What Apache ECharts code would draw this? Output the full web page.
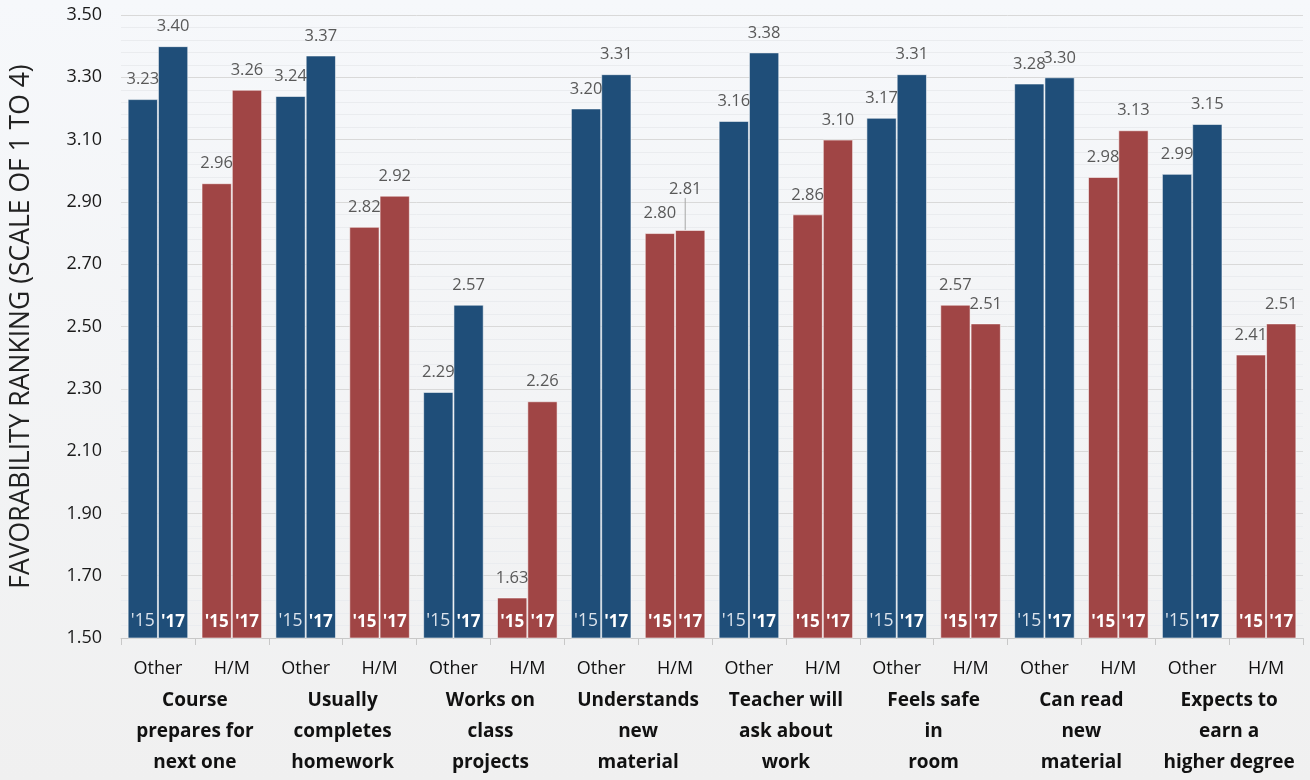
<!DOCTYPE html>
<html>
<head>
<meta charset="utf-8">
<script src="https://cdn.jsdelivr.net/npm/echarts@6/dist/echarts.min.js"></script>
<style>
  html, body { margin: 0; padding: 0; }
  #chart { width: 1310px; height: 780px; }
</style>
</head>
<body>
<div id="chart"></div>
<script>
// Survey items, each split into Other / H/M student groups
const items = [
  'Course\nprepares for\nnext one',
  'Usually\ncompletes\nhomework',
  'Works on\nclass\nprojects',
  'Understands\nnew\nmaterial',
  'Teacher will\nask about\nwork',
  'Feels safe\nin\nroom',
  'Can read\nnew\nmaterial',
  'Expects to\nearn a\nhigher degree'
];
const groups = ['Other', 'H/M'];
const yearTags = ["'15", "'17"];

// Favorability ranking per bar (item x group), ordered Other, H/M, Other, H/M, ...
const values2015 = [3.23, 2.96, 3.24, 2.82, 2.29, 1.63, 3.20, 2.80, 3.16, 2.86, 3.17, 2.57, 3.28, 2.98, 2.99, 2.41];
const values2017 = [3.40, 3.26, 3.37, 2.92, 2.57, 2.26, 3.31, 2.81, 3.38, 3.10, 3.31, 2.51, 3.30, 3.13, 3.15, 2.51];

const yTicks = { min: 1.5, max: 3.5, interval: 0.2 };

const BLUE = '#1f4e79';
const RED = '#a04545';
const FONT = 'Open Sans';

const subCategories = [];
items.forEach(() => groups.forEach(g => subCategories.push(g)));

const barColor = p => (p.dataIndex % 2 === 0 ? BLUE : RED);

function yearBar(name, values, stack) {
  return {
    name: name,
    type: 'bar',
    stack: stack,
    data: values,
    barGap: '0%',
    barCategoryGap: '18%',
    itemStyle: { color: barColor, borderColor: 'rgba(255,255,255,0.55)', borderWidth: 1 },
    label: {
      show: true,
      position: 'insideBottom',
      distance: 8,
      formatter: p => (p.dataIndex % 2 === 0 && name === "'15" ? '{lite|' + name + '}' : '{bold|' + name + '}'),
      rich: {
        lite: { fontFamily: FONT, fontSize: 17.5, color: '#dce3ec', fontWeight: 'normal' },
        bold: { fontFamily: FONT, fontSize: 17, color: '#ffffff', fontWeight: 'bold' }
      }
    },
    emphasis: { disabled: true },
    z: 2
  };
}

// zero-height caps stacked on each bar carry the value labels;
// a label listed in `lifted` is raised and tied back to its bar with a guide line
function valueCap(values, stack, lifted) {
  return {
    type: 'bar',
    stack: stack,
    data: values.map((v, i) => (lifted && lifted[i]
      ? { value: 0, labelLine: { show: true, lineStyle: { color: '#a6a6a6', width: 1 } } }
      : 0)),
    itemStyle: { color: 'rgba(0,0,0,0)', borderWidth: 0 },
    label: {
      show: true,
      position: 'top',
      distance: 11,
      fontFamily: FONT,
      fontSize: 16.5,
      color: '#595959',
      formatter: p => values[p.dataIndex].toFixed(2)
    },
    labelLine: { show: false },
    labelLayout: p => (lifted && lifted[p.dataIndex] ? lifted[p.dataIndex] : {}),
    emphasis: { disabled: true },
    z: 3
  };
}

const chart = echarts.init(document.getElementById('chart'), null, { renderer: 'canvas' });

chart.setOption({
  animation: false,
  backgroundColor: {
    type: 'linear', x: 0, y: 0, x2: 0, y2: 1,
    colorStops: [
      { offset: 0, color: '#f6f8fb' },
      { offset: 1, color: '#f0f0f0' }
    ]
  },
  grid: { left: 117, right: 7, top: 15, bottom: 142, containLabel: false },
  xAxis: [
    {
      type: 'category',
      data: subCategories,
      axisLine: { show: true, lineStyle: { color: '#c8c8c8' } },
      axisTick: { show: true, length: 7, alignWithLabel: false, interval: 0, lineStyle: { color: '#c8c8c8' } },
      axisLabel: { interval: 0, margin: 19, fontFamily: FONT, fontSize: 18, color: '#111', lineHeight: 24 }
    },
    {
      type: 'category',
      data: items,
      position: 'bottom',
      axisLine: { show: false },
      axisTick: { show: false },
      axisLabel: { interval: 0, margin: 47, fontFamily: FONT, fontSize: 19, fontWeight: 'bold', color: '#111', lineHeight: 31 }
    }
  ],
  yAxis: {
    type: 'value',
    min: yTicks.min,
    max: yTicks.max,
    interval: yTicks.interval,
    name: 'FAVORABILITY RANKING (SCALE OF 1 TO 4)',
    nameLocation: 'middle',
    nameGap: 86,
    nameTextStyle: { fontFamily: FONT, fontSize: 26.5, color: '#222' },
    axisLine: { show: false },
    axisTick: { show: false },
    axisLabel: { formatter: v => v.toFixed(2), margin: 19, fontFamily: FONT, fontSize: 18, color: '#1a1a1a' },
    splitLine: { show: true, lineStyle: { color: '#d9d9d9', width: 1 } },
    minorTick: { show: false, splitNumber: 5 },
    minorSplitLine: { show: true, lineStyle: { color: '#eaecef', width: 1 } }
  },
  series: [
    yearBar(yearTags[0], values2015, 'y15'),
    valueCap(values2015, 'y15'),
    yearBar(yearTags[1], values2017, 'y17'),
    valueCap(values2017, 'y17', { 7: { dx: -5, dy: -21 } })
  ]
});
</script>
</body>
</html>
